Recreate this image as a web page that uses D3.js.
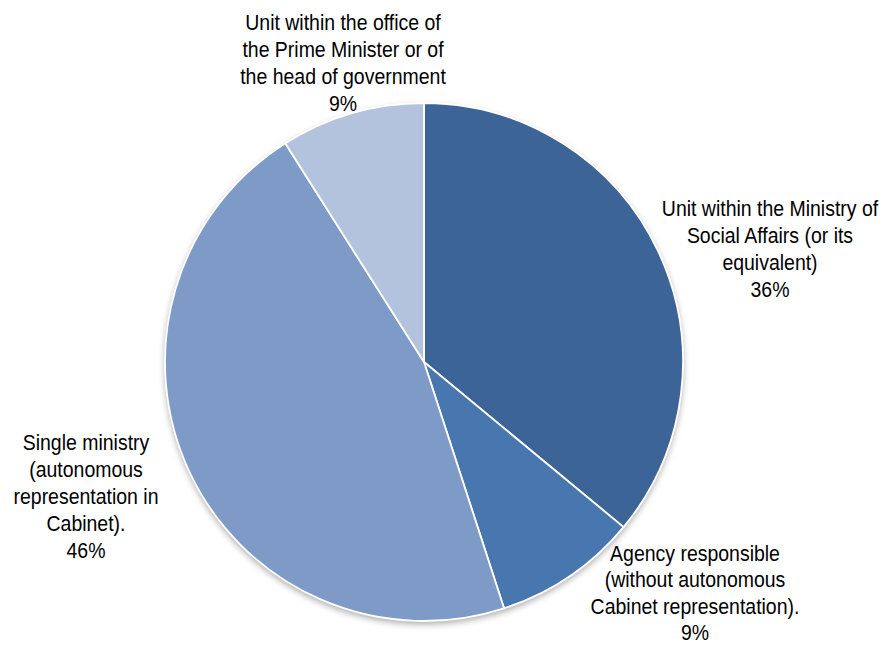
<!DOCTYPE html>
<html>
<head>
<meta charset="utf-8">
<script src="https://cdn.jsdelivr.net/npm/d3@7"></script>
<style>
  html, body { margin: 0; padding: 0; background: #ffffff; }
  svg { display: block; }
  text { font-family: "Liberation Sans Narrow", "Arial Narrow", "Liberation Sans", Arial, sans-serif; fill: #000; }
</style>
</head>
<body>
<svg id="chart" width="882" height="645"></svg>
<script>
// Share of countries by type of institutional arrangement (%)
const categories = [
  "Unit within the Ministry of Social Affairs (or its equivalent)",
  "Agency responsible (without autonomous Cabinet representation).",
  "Single ministry (autonomous representation in Cabinet).",
  "Unit within the office of the Prime Minister or of the head of government"
];
const shares = [36, 9, 46, 9];
const colors = ["#3c6497", "#4877b0", "#7e9bc8", "#b3c3de"];

// Label lines (wrapped) and label centre positions
const labelLines = [
  ["Unit within the Ministry of", "Social Affairs (or its", "equivalent)"],
  ["Agency responsible", "(without autonomous", "Cabinet representation)."],
  ["Single ministry", "(autonomous", "representation in", "Cabinet)."],
  ["Unit within the office of", "the Prime Minister or of", "the head of government"]
];
const labelAnchors = [[770, 208], [695, 553], [86, 442], [343, 22]];
const labelLineHeights = [27.2, 26.6, 27.2, 27.2];

const width = 882, height = 645;
const cx = 424, cy = 362, r = 259;

const svg = d3.select("#chart");
const defs = svg.append("defs");
const shadow = defs.append("filter").attr("id", "shadow")
  .attr("x", "-20%").attr("y", "-20%").attr("width", "140%").attr("height", "140%");
shadow.append("feGaussianBlur").attr("in", "SourceAlpha").attr("stdDeviation", 3.5).attr("result", "blur");
shadow.append("feOffset").attr("in", "blur").attr("dx", 0).attr("dy", 3).attr("result", "off");
shadow.append("feComponentTransfer").attr("in", "off").attr("result", "soft")
  .append("feFuncA").attr("type", "linear").attr("slope", 0.35);
const merge = shadow.append("feMerge");
merge.append("feMergeNode").attr("in", "soft");
merge.append("feMergeNode").attr("in", "SourceGraphic");

const data = shares.map((v, i) => ({
  name: categories[i], value: v, color: colors[i],
  lines: labelLines[i], anchor: labelAnchors[i], lineH: labelLineHeights[i]
}));

const pie = d3.pie().sort(null).value(d => d.value);
const arc = d3.arc().innerRadius(0).outerRadius(r);
const arcs = pie(data);

const g = svg.append("g").attr("transform", `translate(${cx},${cy})`);

// soft shadow under the whole disc
g.append("circle").attr("r", r).attr("fill", "#ffffff").attr("filter", "url(#shadow)");

g.selectAll("path.slice")
  .data(arcs)
  .join("path")
  .attr("class", "slice")
  .attr("d", arc)
  .attr("fill", d => d.data.color)
  .attr("stroke", "#ffffff")
  .attr("stroke-width", 1.8)
  .attr("stroke-linejoin", "round");

// labels are condensed horizontally to get a narrow face
const labels = svg.selectAll("text.label")
  .data(arcs)
  .join("text")
  .attr("class", "label")
  .attr("text-anchor", "middle")
  .attr("font-size", 22)
  .attr("transform", d => `translate(${d.data.anchor[0]},${d.data.anchor[1]}) scale(0.885,1)`);

labels.each(function(d) {
  const t = d3.select(this);
  const lines = d.data.lines.concat([d.data.value + "%"]);
  lines.forEach((ln, i) => {
    t.append("tspan").attr("x", 0).attr("y", i * d.data.lineH).attr("dy", "0.35em").text(ln);
  });
});
</script>
</body>
</html>
